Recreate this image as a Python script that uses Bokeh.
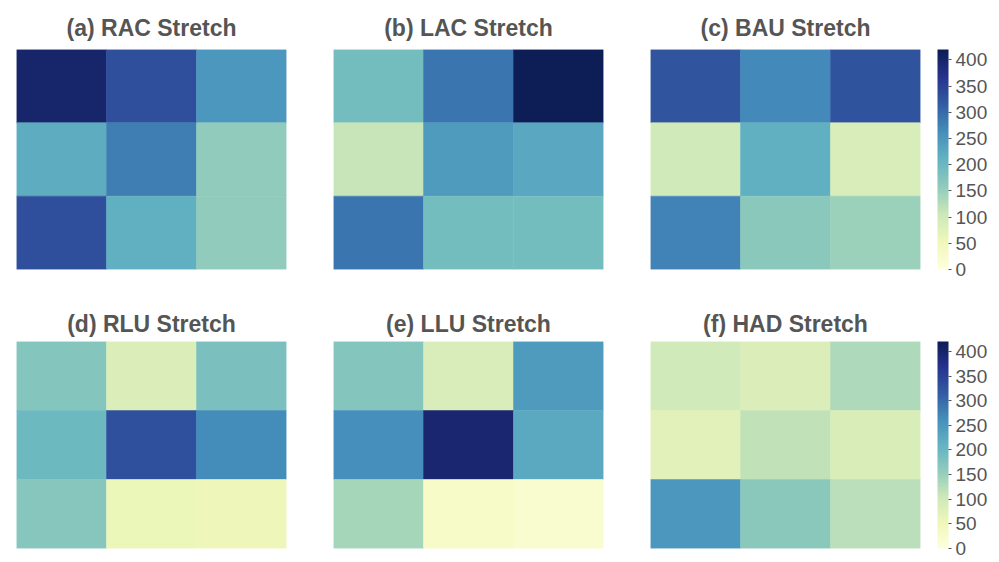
import numpy as np
from bokeh.plotting import figure
from bokeh.models import ColumnDataSource, LinearColorMapper, ColorBar, FixedTicker
from bokeh.layouts import column, row
from bokeh.embed import file_html
from bokeh.resources import INLINE

# ---- data (rows listed top to bottom, columns left to right) ----
titles = ["(a) RAC Stretch", "(b) LAC Stretch", "(c) BAU Stretch",
          "(d) RLU Stretch", "(e) LLU Stretch", "(f) HAD Stretch"]
rac = [[400, 333, 250], [220, 280, 158], [333, 215, 158]]
lac = [[190, 290, 420], [110, 245, 228], [290, 190, 190]]
bau = [[325, 268, 328], [100, 215, 90], [275, 165, 148]]
rlu = [[172, 85, 182], [198, 330, 265], [168, 60, 55]]
llu = [[172, 90, 245], [262, 395, 225], [138, 30, 20]]
had = [[100, 85, 132], [75, 115, 88], [250, 165, 122]]
panels = [rac, lac, bau, rlu, llu, had]
col_idx = [0, 1, 2]
row_idx = [0, 1, 2]
z_low = 0
z_high = 420
cbar_ticks = [0, 50, 100, 150, 200, 250, 300, 350, 400]

# YlGnBu colour scale, light (low) to dark (high)
stops = ["#ffffd9", "#edf8b1", "#c7e9b4", "#7fcdbb", "#41b6c4",
         "#1d91c0", "#225ea8", "#253494", "#081d58"]

M_P3 = np.array([[0.8225, 0.1774, 0.0000],
                 [0.0332, 0.9669, 0.0000],
                 [0.0171, 0.0724, 0.9108]])


def to_display(rgb):
    c = np.asarray(rgb, float) / 255.0
    lin = np.where(c <= 0.04045, c / 12.92, ((c + 0.055) / 1.055) ** 2.4)
    lin = np.clip(M_P3 @ lin, 0, 1)
    enc = np.where(lin <= 0.0031308, lin * 12.92, 1.055 * lin ** (1 / 2.4) - 0.055)
    return np.clip(enc * 255.0, 0, 255)


def build_palette(stops, n=256):
    rgb = np.array([[int(s[i:i + 2], 16) for i in (1, 3, 5)] for s in stops], float)
    pos = np.linspace(0, 1, len(stops))
    t = np.linspace(0, 1, n)
    out = []
    for k in range(n):
        c = [np.interp(t[k], pos, rgb[:, j]) for j in range(3)]
        c = to_display(c)
        out.append("#%02x%02x%02x" % tuple(int(round(v)) for v in c))
    return out


palette = build_palette(stops)
FONT = "Liberation Sans"
GREY = "#555555"


def make(i, frame_h, top, bottom, left, right, standoff, with_bar):
    z = panels[i]
    xs, ys, vs = [], [], []
    for r in row_idx:
        for c in col_idx:
            xs.append(c)
            ys.append(len(row_idx) - 1 - r)
            vs.append(z[r][c])
    src = ColumnDataSource(dict(x=xs, y=ys, v=vs))
    mapper = LinearColorMapper(palette=palette, low=z_low, high=z_high)
    p = figure(frame_width=270, frame_height=frame_h,
               x_range=(-0.5, len(col_idx) - 0.5), y_range=(-0.5, len(row_idx) - 0.5),
               output_backend="svg", toolbar_location=None,
               min_border_top=top, min_border_bottom=bottom,
               min_border_left=left, min_border_right=right)
    p.rect(x="x", y="y", width=1, height=1, source=src,
           fill_color={"field": "v", "transform": mapper},
           line_color={"field": "v", "transform": mapper}, line_width=0.5)
    p.axis.visible = False
    p.grid.visible = False
    p.outline_line_color = None
    p.title.text = titles[i]
    p.title.align = "center"
    p.title.text_font = FONT
    p.title.text_font_style = "bold"
    p.title.text_font_size = "23px"
    p.title.text_color = GREY
    p.title.standoff = standoff
    if with_bar:
        cb = ColorBar(color_mapper=mapper, ticker=FixedTicker(ticks=cbar_ticks),
                      width=11, height=frame_h, padding=0, margin=0,
                      location=(17, 0),
                      major_label_text_font=FONT, major_label_text_font_size="19px",
                      major_label_text_color=GREY, major_tick_in=0, major_tick_out=3,
                      major_tick_line_color=GREY, label_standoff=4,
                      bar_line_color=None, background_fill_alpha=0,
                      border_line_color=None)
        p.add_layout(cb, "right")
    return p


a = make(0, 220, 49, 30, 16, 47, 17, False)
b = make(1, 220, 49, 30, 0, 47, 17, False)
c = make(2, 220, 49, 30, 0, 75, 17, True)
d = make(3, 207, 42, 13, 16, 47, 9, False)
e = make(4, 207, 42, 13, 0, 47, 9, False)
f = make(5, 207, 42, 13, 0, 75, 9, True)

layout = column(row(a, b, c), row(d, e, f))
open("out.html", "w").write(file_html(layout, INLINE))
